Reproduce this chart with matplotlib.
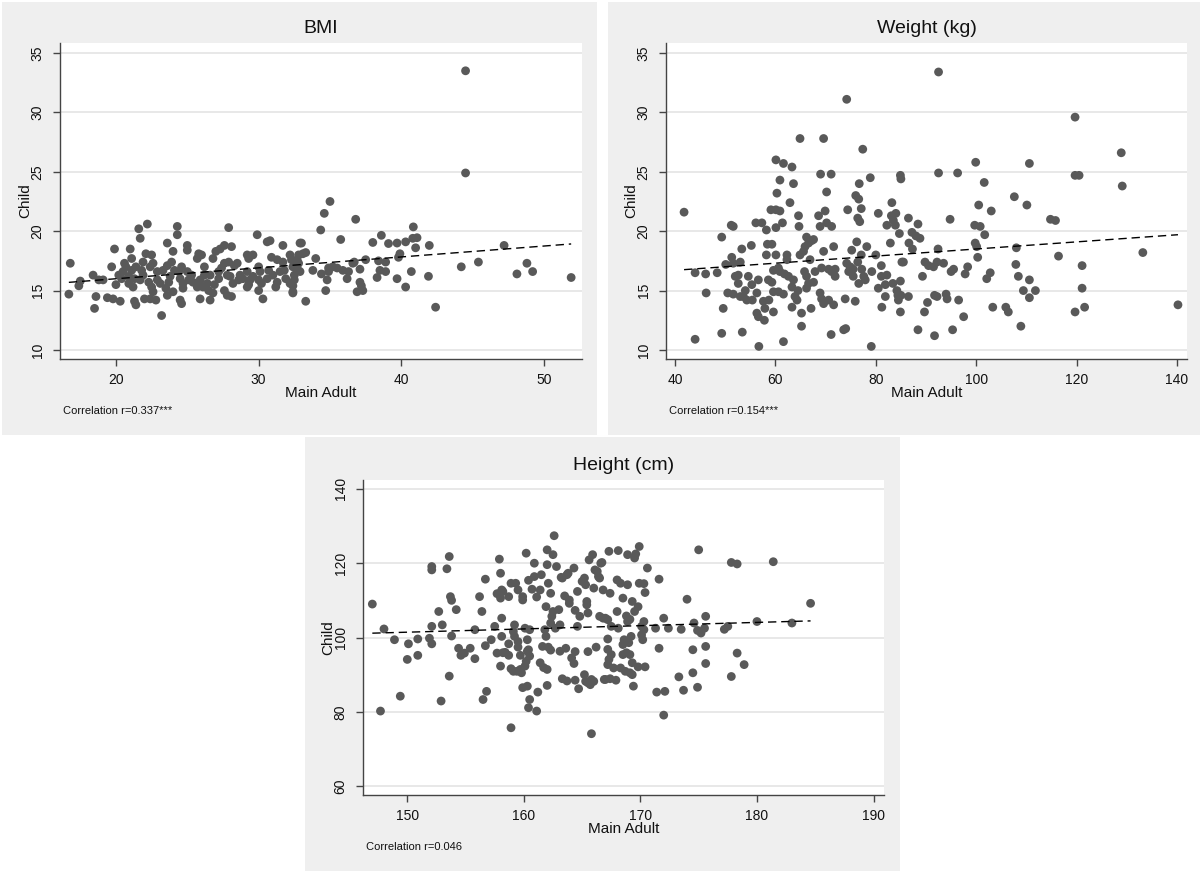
import numpy as np
import matplotlib.pyplot as plt
from matplotlib.patches import Rectangle

plt.rcParams['font.family'] = ['Liberation Sans', 'DejaVu Sans']

# (main adult, child) pairs
bmi_pts = np.array([
    (16.8,17.3),(16.7,14.7),(17.4,15.4),(17.5,15.8),(18.4,16.3),(18.5,13.5),(18.6,14.5),(18.8,15.9),
    (19.9,18.5),(19.7,17.0),(19.4,14.4),(19.8,14.3),(20.0,15.5),(20.3,14.1),(20.5,16.6),(20.6,17.3),
    (21.0,18.5),(20.9,15.6),(21.2,15.3),(21.3,14.1),(21.4,13.8),(20.7,17.0),(21.1,16.7),(21.6,20.2),
    (22.2,20.6),(21.7,19.4),(21.4,17.0),(21.8,16.7),(21.9,16.3),(21.7,15.9),(22.1,18.1),(22.5,18.0),
    (22.6,17.3),(22.4,17.0),(22.3,15.7),(22.5,15.3),(22.6,14.9),(22.0,14.3),(22.4,14.3),(22.8,14.2),
    (23.2,12.9),(22.9,16.6),(23.3,16.7),(23.6,17.1),(23.6,19.0),(24.3,20.4),(24.3,19.7),(24.0,18.3),
    (23.8,16.2),(23.7,15.7),(23.5,15.2),(23.6,14.6),(24.0,14.9),(24.5,14.2),(24.6,13.9),(24.4,16.6),
    (24.5,16.0),(24.7,15.6),(24.7,15.2),(24.6,17.0),(25.0,18.8),(25.0,18.4),(25.3,16.3),(25.4,15.7),
    (25.7,15.3),(25.9,14.3),(25.8,18.1),(25.7,17.7),(26.0,18.0),(26.2,17.0),(26.2,16.3),(26.4,15.6),
    (26.1,15.3),(26.6,14.2),(26.8,14.8),(26.9,15.5),(27.2,16.0),(26.8,17.7),(27.0,18.3),(27.3,18.5),
    (27.6,18.8),(27.9,20.3),(28.1,18.7),(27.6,17.3),(27.9,17.4),(27.4,16.9),(27.8,16.3),(28.0,16.2),
    (27.6,15.0),(27.8,14.6),(28.1,14.5),(28.3,17.1),(28.5,17.3),(28.7,16.3),(28.9,16.0),(29.2,18.0),
    (29.3,17.7),(29.2,16.6),(29.3,15.5),(29.4,15.9),(29.2,15.3),(29.9,19.7),(29.6,18.0),(30.0,17.0),
    (30.1,16.6),(30.0,15.9),(30.0,15.0),(30.3,14.3),(30.6,19.1),(30.8,19.2),(30.9,17.8),(31.0,16.3),
    (31.3,15.7),(31.2,15.3),(31.7,18.8),(31.3,17.6),(31.7,17.4),(31.8,16.7),(31.9,16.0),(32.2,15.6),
    (32.4,14.9),(32.2,18.0),(32.8,18.0),(32.7,16.9),(32.9,19.0),
    (21.1,17.7),(21.3,16.0),(21.9,17.4),(22.9,15.9),(23.1,15.6),(23.9,17.4),(24.1,16.7),(25.0,16.6),
    (25.1,15.9),(25.9,15.9),(26.6,16.3),(26.5,15.0),(27.2,16.6),(28.2,15.6),(28.6,15.9),(29.6,16.2),
    (30.2,15.6),(30.6,16.0),(30.7,16.7),(31.5,16.6),(20.4,16.0),(20.2,16.3),(20.9,16.2),(19.1,15.9),
    (35.0,22.5),(34.6,21.5),(34.35,20.1),(36.8,21.0),(33.0,19.0),(35.75,19.3),(38.0,19.05),(38.6,19.65),
    (39.1,18.96),(39.7,19.0),(40.3,19.1),(40.84,20.36),(40.8,19.4),(41.1,19.45),(41.0,18.6),(41.96,18.8),
    (39.9,18.1),(39.8,17.8),(37.5,17.6),(38.4,17.5),(38.9,17.4),(36.6,17.3),(37.1,16.8),(35.2,17.0),
    (34.9,16.9),(34.0,17.7),(33.1,18.1),(33.3,18.2),(32.7,17.6),(32.8,17.3),(32.3,17.6),(32.4,17.0),
    (32.9,16.6),(32.5,16.3),(32.5,15.9),(32.4,15.4),(32.4,14.8),(33.3,14.1),(33.8,16.7),(34.4,16.4),
    (34.9,16.6),(34.8,15.9),(34.7,15.0),(35.5,16.9),(35.9,16.7),(36.3,16.6),(36.2,16.0),(37.1,15.7),
    (37.2,15.4),(36.9,14.9),(37.3,15.0),(36.7,17.4),(38.3,16.1),(38.5,16.7),(38.9,16.6),(39.7,16.0),
    (40.3,15.3),(40.7,16.6),(41.9,16.2),(42.4,13.6),(44.2,17.0),(45.4,17.4),(47.2,18.8),(48.1,16.4),
    (48.8,17.3),(49.2,16.6),(51.9,16.1),(44.5,33.5),(44.5,24.9),
])

weight_pts = np.array([
    (41.8,21.6),(44.0,10.9),(44.0,16.5),(46.1,16.4),(46.2,14.8),(48.4,16.5),(49.3,19.5),(49.6,13.5),
    (49.3,11.4),(50.1,17.2),(51.2,20.5),(51.6,20.4),(51.3,17.8),(51.6,17.3),(50.5,14.8),(51.6,14.7),
    (52.0,16.2),(52.6,16.3),(53.0,17.4),(53.3,18.5),(53.4,11.5),(52.6,15.6),(53.0,14.5),(53.6,14.5),
    (54.3,14.2),(54.0,15.0),(55.2,18.8),(54.6,16.2),(55.3,15.5),(55.4,14.2),(56.1,20.7),(57.3,20.7),
    (56.3,14.8),(56.6,15.9),(56.3,13.1),(56.6,12.8),(56.7,10.3),(57.6,14.1),(57.8,12.5),(57.9,13.5),
    (58.2,20.1),(58.2,18.0),(58.4,18.9),(58.6,15.9),(59.3,15.7),(58.7,14.2),(59.3,18.9),(59.1,21.8),
    (60.1,21.8),(60.9,21.7),(60.1,20.3),(61.4,20.7),(59.6,16.7),(60.6,16.9),(59.6,14.9),(60.6,14.9),
    (59.6,13.2),(60.1,18.0),(60.9,16.6),(61.8,16.4),(61.6,14.7),(61.6,10.7),(62.3,18.0),(62.3,17.6),
    (62.6,16.2),(62.9,22.4),(63.3,15.3),(63.6,15.9),(63.3,13.6),(63.9,14.5),(64.3,14.2),(64.6,21.3),
    (64.7,20.4),(64.5,15.0),(65.2,12.0),(65.2,13.1),(64.9,18.0),(65.6,18.3),(65.9,18.7),(66.2,19.5),
    (66.6,19.0),(67.2,19.2),(67.6,19.3),(65.8,16.6),(66.2,16.2),(66.6,15.6),(66.2,15.2),(66.9,17.6),
    (67.1,13.5),(67.6,15.7),(67.9,16.6),(68.6,21.3),(68.9,20.4),(68.9,14.8),(69.2,14.3),(69.6,13.9),
    (69.6,18.3),(69.2,16.9),(69.9,21.7),(70.2,20.7),(71.2,20.4),(70.6,16.8),(71.2,16.6),(71.9,16.8),
    (71.6,18.7),(70.6,14.2),(71.6,13.8),(71.1,11.3),(71.9,16.2),(73.6,11.7),(74.0,11.8),(73.9,14.3),
    (74.4,21.8),(74.2,17.3),(74.6,16.6),(74.9,17.0),(75.2,18.4),(75.5,16.2),(75.5,16.8),(75.9,14.1),
    (76.2,19.1),(76.4,21.1),(76.8,20.8),(76.6,15.6),(76.4,17.4),(77.1,18.0),(77.2,16.8),(77.6,16.2),
    (77.9,15.9),(77.1,21.9),(78.2,18.7),(79.2,16.6),(79.1,10.3),(80.0,18.0),(80.5,21.5),(80.5,15.2),
    (81.1,16.2),(81.1,17.1),(81.2,13.6),(81.9,14.5),(81.9,15.5),(82.2,16.3),(82.2,20.5),(82.9,19.0),
    (83.1,21.3),(83.2,22.4),(83.4,15.6),(83.5,20.9),(83.9,20.5),(84.2,15.0),(84.4,14.6),(84.5,14.2),
    (84.9,13.2),(84.7,19.8),(85.2,17.4),(84.9,15.8),(84.0,21.5),
    (86.5,21.1),(88.4,20.6),(87.2,19.9),(88.0,19.6),(88.8,19.4),(86.6,19.0),(87.3,18.5),(85.5,17.4),
    (89.8,17.4),(90.5,17.1),(91.5,17.0),(92.2,17.4),(93.5,17.3),(92.4,18.5),(94.8,21.0),(95.0,16.6),
    (95.5,16.8),(97.8,16.4),(98.3,17.0),(89.3,16.2),(85.0,14.6),(86.5,14.5),(90.3,14.0),(89.7,13.2),
    (91.7,14.6),(92.2,14.5),(94.0,14.7),(94.2,14.3),(96.5,14.2),(88.4,11.7),(91.7,11.2),(95.3,11.7),
    (97.5,12.8),(99.7,20.5),(100.8,20.4),(101.7,19.7),(100.5,22.2),(103.0,21.7),(99.8,19.0),(100.1,18.7),
    (100.3,17.8),(102.1,16.0),(102.8,16.5),(103.3,13.6),(105.9,13.6),(106.4,13.2),(108.0,18.6),(107.9,17.2),
    (108.4,16.2),(110.6,15.9),(109.4,15.0),(111.8,15.0),(110.6,14.4),(108.9,12.0),(110.1,22.2),(114.8,21.0),
    (115.8,20.9),(116.4,17.9),(119.7,13.2),(121.1,17.1),(121.1,15.2),(121.6,13.6),(133.2,18.2),(140.2,13.8),
    (60.1,26.0),(61.6,25.7),(63.3,25.4),(64.9,27.8),(69.6,27.8),(60.9,24.3),(63.6,24.0),(60.3,23.2),
    (69.0,24.8),(71.1,24.8),(70.2,23.3),(74.2,31.1),(77.4,26.9),(78.9,24.5),(76.7,24.0),(76.0,23.0),
    (76.6,22.7),(84.9,24.7),(85.0,24.4),(92.5,33.4),(92.5,24.9),(96.3,24.9),(99.9,25.8),(101.6,24.1),
    (107.6,22.9),(110.6,25.7),(119.7,29.6),(119.7,24.7),(120.5,24.7),(128.9,26.6),(129.1,23.8),
])

height_pts = np.array([
    (147.0,109.0),(148.0,102.3),(148.9,99.4),(150.1,98.3),(150.9,99.6),(151.9,99.8),(152.1,98.3),(152.1,118.2),
    (152.1,119.1),(152.7,107.0),(153.0,103.4),(152.1,103.0),(153.4,118.5),(153.6,121.8),(153.7,111.0),(153.8,110.0),
    (154.2,107.5),(153.8,100.4),(154.4,97.1),(154.9,95.8),(155.4,97.1),(155.8,102.1),(156.2,111.0),(156.4,107.0),
    (156.7,115.7),(156.7,97.8),(157.2,99.4),(157.5,103.0),(157.7,111.8),(157.9,121.1),(158.0,117.3),(158.1,112.8),
    (158.0,110.6),(158.2,112.4),(158.1,105.2),(158.4,96.0),(158.7,98.3),(158.7,111.0),(158.9,114.6),(159.3,114.6),
    (159.2,103.4),(159.1,101.6),(159.2,100.3),(159.5,112.8),(159.9,111.0),(159.9,110.1),(159.5,98.9),(159.5,97.4),
    (160.2,122.7),(160.4,115.4),(160.3,99.4),(160.1,102.5),(160.5,102.1),(160.4,96.7),(160.9,120.0),(160.9,116.4),
    (160.7,113.0),(161.1,110.9),(161.4,112.8),(161.5,116.9),(161.9,108.3),(162.0,123.6),(162.0,119.6),(162.1,114.6),
    (162.3,111.9),(162.5,122.3),(162.6,127.4),(162.8,119.1),(161.8,102.1),(161.9,100.3),(161.6,97.6),(162.1,97.4),
    (162.3,103.9),(162.4,105.7),(162.5,107.0),(162.7,102.5),(163.0,107.5),(163.2,116.2),(163.3,116.0),(163.5,111.2),
    (163.7,116.9),(163.8,117.3),(163.9,110.1),(163.9,109.2),(164.3,118.7),(164.4,107.3),(164.6,112.4),(164.8,105.7),
    (165.0,115.1),(165.2,116.0),(165.4,109.7),(165.4,108.8),(165.3,114.2),(165.5,106.6),(165.6,120.9),(165.9,122.3),
    (166.0,113.3),(166.1,118.2),(166.4,116.4),(166.6,120.0),(166.8,112.8),(166.5,105.7),(166.8,105.2),(164.6,103.0),
    (163.1,103.4),(163.6,97.1),(164.4,96.2),(165.5,96.2),(166.2,97.4),(158.1,100.3),(157.7,95.8),
    (147.7,80.2),(149.4,84.2),(150.0,94.1),(150.9,95.2),(152.9,82.9),(153.6,89.6),(154.6,95.2),(155.8,94.3),
    (156.5,83.3),(156.8,85.5),(158.2,95.9),(158.0,92.3),(158.7,95.2),(158.9,91.6),(159.1,90.9),(159.4,90.9),
    (159.7,91.4),(159.8,90.5),(159.7,95.2),(158.9,75.7),(159.9,86.5),(160.3,86.9),(160.3,96.3),(160.5,95.0),
    (160.2,93.6),(160.1,92.3),(160.5,83.3),(160.4,81.1),(161.1,80.2),(161.2,85.3),(161.4,93.2),(161.7,91.9),
    (162.0,91.4),(162.3,96.6),(162.0,87.1),(163.1,96.3),(163.3,88.9),(163.7,88.3),(164.1,94.5),(164.3,93.0),
    (164.4,88.5),(164.7,86.2),(165.2,90.0),(165.3,88.2),(165.5,87.8),(165.7,87.3),(165.8,88.7),(165.8,74.1),
    (166.9,88.7),(166.0,88.2),
    (166.7,120.2),(166.3,117.8),(166.5,116.0),(167.4,111.9),(167.3,123.2),(168.1,123.4),(168.9,122.3),(169.5,121.4),
    (169.6,122.5),(169.9,124.5),(170.6,118.7),(168.0,115.5),(168.3,114.6),(168.9,114.2),(169.9,114.6),(170.3,114.5),
    (170.4,112.1),(171.6,115.7),(168.5,110.6),(169.3,109.7),(169.8,108.3),(169.5,107.0),(168.0,107.0),(167.0,105.2),
    (167.2,104.8),(168.8,105.8),(169.1,104.9),(168.9,104.3),(167.5,103.0),(168.1,102.5),(170.3,104.3),(170.1,103.0),
    (170.3,102.1),(171.3,102.5),(172.0,105.2),(172.4,102.5),(173.5,102.2),(174.0,110.3),(174.6,103.9),(175.6,105.7),
    (175.0,123.6),(175.5,102.5),(174.9,101.9),(175.2,101.2),(177.2,102.2),(177.5,103.0),(177.8,120.2),(178.3,119.8),
    (180.0,104.3),(181.4,120.4),(183.0,103.9),(184.6,109.2),(167.2,99.6),(168.6,99.4),(169.2,100.3),(170.1,100.7),
    (170.2,99.4),(171.6,97.1),(174.5,96.7),(175.6,97.6),(178.3,95.8),
    (167.2,96.8),(167.5,95.4),(167.3,94.1),(167.2,92.7),(167.7,91.8),(168.5,98.1),(169.0,98.6),(168.8,95.9),
    (169.1,95.4),(168.5,95.4),(168.3,91.8),(168.7,90.9),(169.1,90.5),(169.3,90.0),(169.3,93.2),(169.8,92.1),
    (170.4,92.1),(167.0,88.7),(167.4,88.9),(167.9,88.5),(169.4,86.9),(171.4,85.3),(172.1,85.5),(172.0,79.1),
    (173.3,89.4),(173.7,85.8),(174.5,90.5),(174.9,86.6),(175.6,93.0),(177.8,89.5),(178.9,92.7),
])

titles = ['BMI', 'Weight (kg)', 'Height (cm)']
corr_labels = ['Correlation r=0.337***', 'Correlation r=0.154***', 'Correlation r=0.046']
xticks_list = [[20, 30, 40, 50], [40, 60, 80, 100, 120, 140], [150, 160, 170, 180, 190]]
yticks_list = [[10, 15, 20, 25, 30, 35], [10, 15, 20, 25, 30, 35], [60, 80, 100, 120, 140]]
xlims = [(16.08, 52.66), (38.2, 142.0), (146.2, 190.9)]
ylims = [(9.24, 35.84), (9.24, 35.84), (57.6, 142.4)]

W, H = 1202, 871
fig = plt.figure(figsize=(W / 100, H / 100), dpi=100)
fig.patch.set_facecolor('white')

# pixel boxes (left, top, right, bottom)
panel_boxes = [(2, 2, 597, 435), (608, 2, 1200, 435), (305, 437, 900, 871)]
axes_boxes = [(60, 43, 582, 359), (666, 43, 1187, 359), (363, 480, 884, 795)]


def to_fig(l, t, r, b):
    return [l / W, 1 - b / H, (r - l) / W, (b - t) / H]


for pb in panel_boxes:
    x0, y0, w, h = to_fig(*pb)
    fig.patches.append(Rectangle((x0, y0), w, h, transform=fig.transFigure,
                                 facecolor='#efefef', edgecolor='none', zorder=-10))

all_pts = [bmi_pts, weight_pts, height_pts]
for i in range(3):
    ab = axes_boxes[i]
    ax = fig.add_axes(to_fig(*ab))
    ax.set_zorder(1)
    ax.set_facecolor('white')
    pts = all_pts[i]
    adult, child = pts[:, 0], pts[:, 1]

    ax.scatter(adult, child, s=40, color='#595959', edgecolors='none', zorder=2)

    slope, icpt = np.polyfit(adult, child, 1)
    xs = np.array([adult.min(), adult.max()])
    ax.plot(xs, slope * xs + icpt, color='black', lw=1.0, linestyle=(0, (6, 3.5)), zorder=3)

    ax.set_xlim(*xlims[i])
    ax.set_ylim(*ylims[i])
    ax.set_xticks(xticks_list[i])
    ax.set_yticks(yticks_list[i])
    ax.yaxis.grid(True, color='#e4e4e4', lw=1.2)
    ax.set_axisbelow(True)
    for s in ['top', 'right']:
        ax.spines[s].set_visible(False)
    for s in ['left', 'bottom']:
        ax.spines[s].set_color('#444444')
        ax.spines[s].set_linewidth(1.0)
    ax.tick_params(axis='both', direction='out', length=5, width=1, color='#444444',
                   labelsize=10, labelcolor='#111111')
    ax.tick_params(axis='x', pad=5)
    ax.tick_params(axis='y', pad=6, labelrotation=90)
    for lab in ax.get_yticklabels():
        lab.set_va('center')

    axw = ab[2] - ab[0]
    axh = ab[3] - ab[1]
    ax.set_xlabel('Main Adult', fontsize=11, color='#111111')
    ax.xaxis.set_label_coords(0.5, -27 / axh)
    ax.set_ylabel('Child', fontsize=11, color='#111111')
    ax.yaxis.set_label_coords(-28 / axw, 0.5)
    ax.text(0.5, 1 + 14.5 / axh, titles[i], transform=ax.transAxes,
            ha='center', va='center', fontsize=14, color='#111111')

    fig.text((ab[0] + 3) / W, 1 - (ab[3] + 52) / H, corr_labels[i],
             ha='left', va='center', fontsize=8, color='#111111')

fig.savefig('out.png', dpi=100, facecolor='white')
